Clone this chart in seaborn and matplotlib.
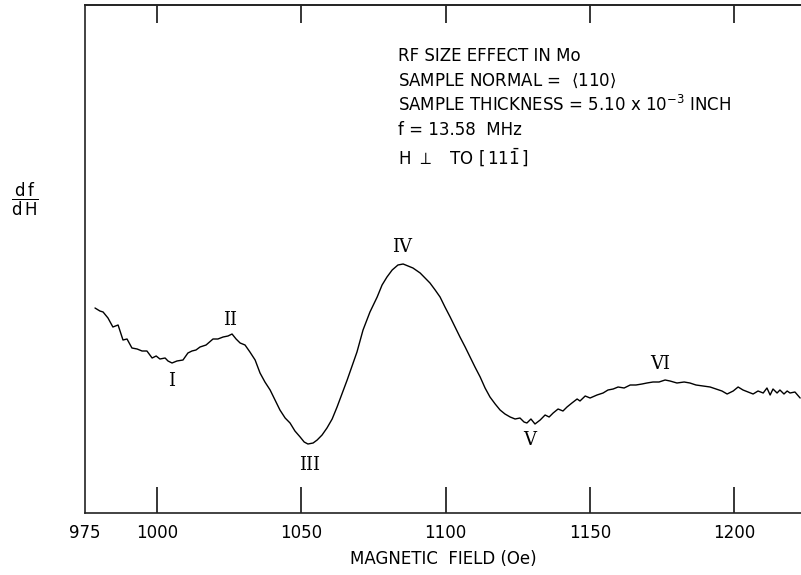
import pandas as pd
import matplotlib
matplotlib.use("Agg")
import matplotlib.pyplot as plt
import seaborn as sns

# RF size effect trace
field = [978.5, 980.2, 981.3, 983.0, 984.7, 986.5, 988.2, 989.6, 991.3, 993.1,
         994.8, 996.5, 998.3, 999.7, 1001.0, 1002.8, 1003.8, 1005.2, 1006.9, 1009.0,
         1010.7, 1012.1, 1013.5, 1014.9, 1017.0, 1019.4, 1021.1, 1022.9, 1024.6, 1026.0,
         1027.4, 1028.8, 1030.5, 1032.2, 1034.0, 1035.7, 1037.4, 1039.2, 1040.9, 1042.6,
         1044.4, 1046.1, 1047.8, 1049.6, 1051.0, 1052.3, 1054.1, 1055.5, 1057.2, 1058.9,
         1060.7, 1062.4, 1064.1, 1065.9, 1067.6, 1069.3, 1071.4, 1073.8, 1076.3, 1078.0,
         1079.7, 1081.5, 1083.5, 1085.3, 1087.0, 1088.7, 1091.2, 1092.9, 1094.6, 1096.4,
         1098.1, 1099.8, 1101.6, 1103.3, 1105.0, 1106.8, 1108.5, 1110.2, 1112.0, 1113.7,
         1115.4, 1117.2, 1118.9, 1120.6, 1122.4, 1124.1, 1125.8, 1127.2, 1128.2, 1129.6,
         1131.0, 1132.8, 1134.5, 1135.9, 1137.3, 1139.0, 1140.7, 1142.1, 1143.8, 1145.6,
         1146.6, 1148.4, 1150.1, 1152.5, 1154.6, 1156.3, 1158.1, 1159.8, 1161.9, 1164.0,
         1166.0, 1168.1, 1169.8, 1171.9, 1174.0, 1176.1, 1177.8, 1180.2, 1182.7, 1184.7,
         1186.8, 1189.3, 1191.7, 1193.8, 1195.8, 1197.6, 1199.7, 1201.4, 1203.1, 1204.9,
         1206.6, 1208.3, 1210.1, 1211.4, 1212.5, 1213.5, 1214.9, 1215.9, 1217.3, 1218.4,
         1219.4, 1221.1, 1222.9]
signal = [205, 202, 201, 195, 186, 188, 173, 174, 165, 164,
          162, 162, 155, 157, 154, 155, 152, 150, 152, 153,
          160, 162, 163, 166, 168, 174, 174, 176, 177, 179,
          174, 170, 168, 161, 153, 140, 131, 123, 113, 103,
          95, 90, 82, 76, 71, 69, 70, 73, 78, 85,
          94, 106, 119, 133, 147, 161, 183, 201, 216, 228,
          236, 243, 248, 249, 247, 245, 240, 235, 230, 223,
          216, 206, 196, 186, 176, 166, 156, 146, 136, 125,
          116, 109, 103, 99, 96, 94, 95, 91, 90, 94,
          89, 93, 98, 96, 100, 104, 102, 106, 110, 114,
          112, 117, 115, 118, 120, 123, 124, 126, 125, 128,
          128, 129, 130, 131, 131, 133, 132, 130, 131, 130,
          128, 127, 126, 124, 122, 119, 122, 126, 123, 121,
          119, 122, 120, 125, 118, 124, 120, 123, 119, 122,
          120, 121, 115]

# peak labels
peak_names = ["I", "II", "III", "IV", "V", "VI"]
peak_field = [1005.2, 1025.3, 1053.0, 1084.9, 1129.3, 1174.4]
peak_signal = [132, 193, 48, 266, 73, 149]

xticks = [975, 1000, 1050, 1100, 1150, 1200]

notes = ["RF SIZE EFFECT IN Mo",
         r"SAMPLE NORMAL =  $\langle$110$\rangle$",
         r"SAMPLE THICKNESS = 5.10 x 10$^{-3}$ INCH",
         "f = 13.58  MHz",
         r"H $\perp$   TO $\left[\,11\bar{1}\,\right]$"]

df = pd.DataFrame({"field": field, "signal": signal})

sns.set_style("ticks")
plt.rcParams["font.family"] = ["DejaVu Sans"]
plt.rcParams["text.color"] = "black"
plt.rcParams["axes.labelcolor"] = "black"

W, H = 801, 575
fig = plt.figure(figsize=(W / 100, H / 100), dpi=100)
ax = fig.add_axes([84.9 / W, (H - 513) / H, (W - 84.9) / W, 508 / H])

sns.lineplot(data=df, x="field", y="signal", color="black", linewidth=1.0,
             estimator=None, sort=False, ax=ax)

ax.set_xlim(975, 1223.2)
ax.set_ylim(0, 508)
ax.set_yticks([])
ax.set_ylabel("")
ax.set_xlabel("MAGNETIC  FIELD (Oe)", fontsize=12, labelpad=6)
ax.set_xticks(xticks)
ax.set_xticklabels([str(t) for t in xticks], fontsize=12)
ax.tick_params(axis="x", direction="in", length=19, width=1.1, pad=8, colors="black")
ax.xaxis.get_major_ticks()[0].tick1line.set_visible(False)
ax.spines["right"].set_visible(False)
for s in ["left", "bottom", "top"]:
    ax.spines[s].set_linewidth(1.2)
    ax.spines[s].set_color("#222222")

top = ax.secondary_xaxis("top")
top.set_xticks(xticks[1:])
top.tick_params(direction="in", length=13, width=1.1, labeltop=False, colors="black")
top.spines["top"].set_linewidth(1.2)

for name, fx, sy in zip(peak_names, peak_field, peak_signal):
    ax.text(fx, sy, name, family="DejaVu Serif", fontsize=13,
            ha="center", va="center")

note_y = [56, 81, 105, 130, 157]
for txt, py in zip(notes, note_y):
    fig.text(398 / W, 1 - py / H, txt, fontsize=12, ha="left", va="center")

fig.text(25 / W, 1 - 199 / H, r"$\dfrac{\mathrm{d\,f}}{\mathrm{d\,H}}$",
         fontsize=12, ha="center", va="center")

fig.savefig("out.png", dpi=100)
